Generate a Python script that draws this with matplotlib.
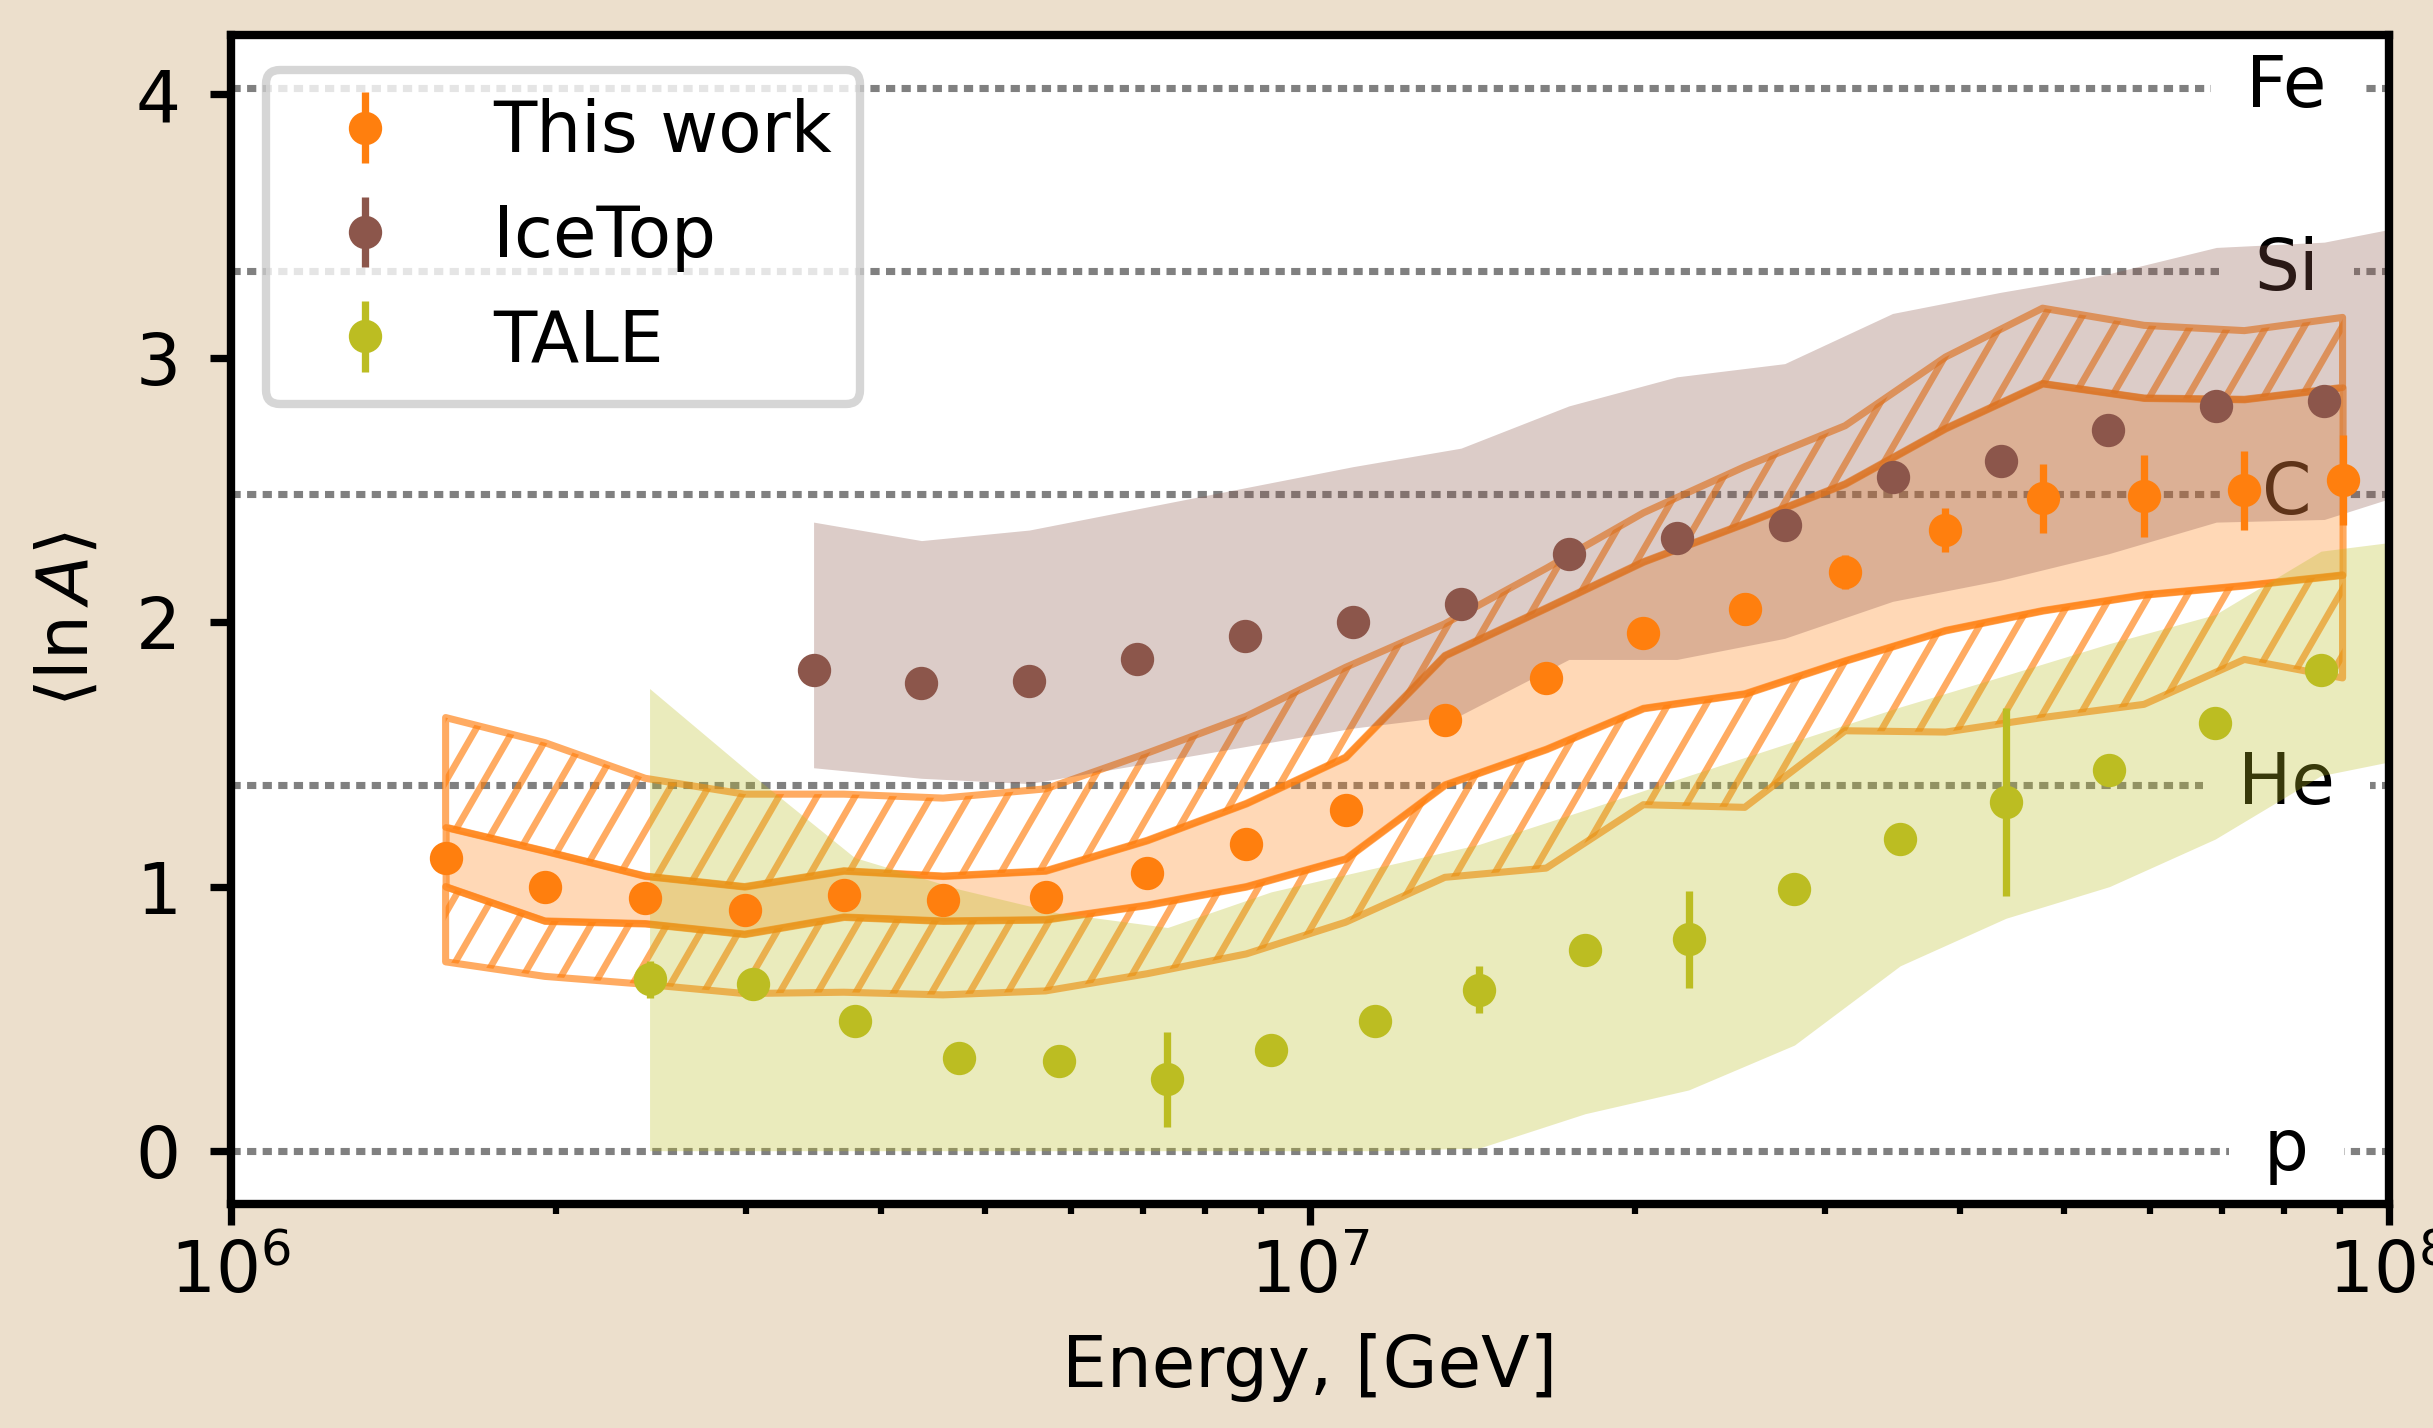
import numpy as np
import matplotlib
matplotlib.use("Agg")
import matplotlib.pyplot as plt
from matplotlib.collections import LineCollection
from matplotlib.colors import to_rgb

# ---- this work: log10(E/GeV), <lnA>, stat. error, stat. band and syst. band
lgE_this = [6.199, 6.291, 6.384, 6.476, 6.568, 6.660, 6.755, 6.849, 6.941, 7.033,
            7.125, 7.219, 7.309, 7.403, 7.496, 7.589, 7.679, 7.773, 7.866, 7.957]
lnA_this = [1.11, 1.00, 0.955, 0.91, 0.97, 0.95, 0.96, 1.05, 1.16, 1.29,
            1.63, 1.79, 1.96, 2.05, 2.19, 2.35, 2.47, 2.48, 2.50, 2.54]
err_this = [0.02, 0.02, 0.02, 0.02, 0.02, 0.02, 0.02, 0.03, 0.03, 0.03,
            0.03, 0.03, 0.04, 0.06, 0.065, 0.085, 0.13, 0.155, 0.15, 0.17]
stat_lo = [1.00, 0.87, 0.86, 0.82, 0.885, 0.87, 0.875, 0.93, 1.00, 1.105,
           1.385, 1.52, 1.675, 1.73, 1.855, 1.97, 2.045, 2.105, 2.14, 2.18]
stat_hi = [1.225, 1.135, 1.04, 1.00, 1.06, 1.04, 1.06, 1.175, 1.315, 1.49,
           1.875, 2.055, 2.23, 2.375, 2.525, 2.735, 2.905, 2.85, 2.845, 2.89]
sys_lo = [0.715, 0.66, 0.63, 0.595, 0.60, 0.59, 0.605, 0.67, 0.745, 0.865,
          1.035, 1.07, 1.31, 1.30, 1.59, 1.585, 1.64, 1.69, 1.86, 1.79]
sys_hi = [1.64, 1.545, 1.41, 1.35, 1.35, 1.335, 1.37, 1.505, 1.645, 1.83,
          1.995, 2.205, 2.415, 2.59, 2.745, 3.005, 3.19, 3.125, 3.105, 3.155]

# ---- IceTop
lgE_icetop = [6.54, 6.64, 6.74, 6.84, 6.94, 7.04, 7.14, 7.24, 7.34, 7.44,
              7.54, 7.64, 7.74, 7.84, 7.94]
lnA_icetop = [1.82, 1.77, 1.78, 1.86, 1.95, 2.00, 2.07, 2.26, 2.32, 2.37,
              2.55, 2.61, 2.73, 2.82, 2.84]
err_icetop = [0.02, 0.02, 0.02, 0.02, 0.02, 0.02, 0.02, 0.02, 0.02, 0.02,
              0.02, 0.02, 0.02, 0.02, 0.02]
lgE_icetop_band = [6.54, 6.64, 6.74, 6.84, 6.94, 7.04, 7.14, 7.24, 7.34, 7.44,
                   7.54, 7.64, 7.74, 7.84, 7.94, 8.04]
icetop_lo = [1.45, 1.41, 1.39, 1.46, 1.53, 1.60, 1.65, 1.86, 1.86, 1.94,
             2.08, 2.16, 2.26, 2.38, 2.39, 2.52]
icetop_hi = [2.38, 2.31, 2.35, 2.43, 2.51, 2.59, 2.66, 2.82, 2.93, 2.98,
             3.17, 3.25, 3.32, 3.42, 3.44, 3.52]

# ---- TALE
lgE_tale = [6.388, 6.484, 6.578, 6.675, 6.767, 6.868, 6.964, 7.060, 7.157,
            7.255, 7.351, 7.449, 7.547, 7.645, 7.741, 7.839, 7.937]
lnA_tale = [0.65, 0.63, 0.49, 0.35, 0.34, 0.27, 0.38, 0.49, 0.61,
            0.76, 0.80, 0.99, 1.18, 1.32, 1.44, 1.62, 1.82]
err_tale = [0.07, 0.02, 0.02, 0.02, 0.02, 0.18, 0.02, 0.02, 0.09,
            0.02, 0.185, 0.02, 0.02, 0.355, 0.02, 0.02, 0.02]
lgE_tale_band = [6.388, 6.484, 6.578, 6.675, 6.767, 6.868, 6.964, 7.060, 7.157,
                 7.255, 7.351, 7.449, 7.547, 7.645, 7.741, 7.839, 7.937, 8.034]
tale_lo = [0.0, 0.0, 0.0, 0.0, 0.0, 0.0, 0.0, 0.0, 0.01,
           0.14, 0.23, 0.40, 0.70, 0.88, 1.00, 1.18, 1.42, 1.50]
tale_hi = [1.75, 1.42, 1.11, 0.99, 0.90, 0.845, 0.98, 1.07, 1.16,
           1.29, 1.42, 1.55, 1.68, 1.80, 1.92, 2.03, 2.27, 2.32]

# ---- reference nuclei
nuclei = ["p", "He", "C", "Si", "Fe"]
mass_numbers = [1, 4, 12, 28, 56]

FS = 17
c_this = "#ff7f0e"
c_icetop = "#8c564b"
c_tale = "#bcbd22"


def E(lg):
    return 10 ** np.asarray(lg)


def add_hatch(ax, band, spacing=38, angle=60, **kw):
    # slanted hatch lines in axes fraction, clipped to the band polygon
    bb = ax.get_window_extent()
    dx = bb.height / np.tan(np.radians(angle)) / bb.width
    step = spacing / bb.width
    starts = np.arange(-dx - step, 1 + step, step)
    segs = [[(s, 0), (s + dx, 1)] for s in starts]
    lc = LineCollection(segs, transform=ax.transAxes, **kw)
    ax.add_collection(lc, autolim=False)
    lc.set_clip_path(band.get_paths()[0], ax.transData)
    return lc


fig = plt.figure(figsize=(8.11, 4.76), dpi=300, facecolor="#ecdfcc")
ax = fig.add_axes([0.0949, 0.1572, 0.887, 0.8186])
ax.set_xscale("log")
ax.set_xlim(1e6, 1e8)
ax.set_ylim(-0.2, 4.226)

for name, a in zip(nuclei, mass_numbers):
    ax.axhline(np.log(a), color="gray", lw=1.7, ls=(0, (1.3, 0.9)), zorder=1)
    ax.text(10 ** 7.905, np.log(a), name, ha="center", va="center", fontsize=FS,
            zorder=1.5, clip_on=True,
            bbox=dict(boxstyle="square,pad=0.5", facecolor="white", edgecolor="none"))

# this work: hatched systematic bands and shaded statistical band
rgb = to_rgb(c_this)
edge = (*rgb, 0.65)
x_this = E(lgE_this)
band_up = ax.fill_between(x_this, stat_hi, sys_hi, facecolor="none",
                          edgecolor=edge, lw=1.7, zorder=2)
band_dn = ax.fill_between(x_this, sys_lo, stat_lo, facecolor="none",
                          edgecolor=edge, lw=1.7, zorder=2)
ax.fill_between(x_this, stat_lo, stat_hi, facecolor=(*rgb, 0.3),
                edgecolor=edge, lw=1.7, zorder=2)
for b in (band_up, band_dn):
    add_hatch(ax, b, colors=[edge], linewidths=1.6, zorder=2.1)

# IceTop and TALE systematic bands
ax.fill_between(E(lgE_icetop_band), icetop_lo, icetop_hi, color=c_icetop,
                alpha=0.3, lw=0, zorder=2.5)
ax.fill_between(E(lgE_tale_band), tale_lo, tale_hi, color=c_tale,
                alpha=0.3, lw=0, zorder=2.5)

ax.errorbar(x_this, lnA_this, yerr=err_this, fmt="o", color=c_this, ms=7,
            elinewidth=1.75, label="This work", zorder=4)
ax.errorbar(E(lgE_icetop), lnA_icetop, yerr=err_icetop, fmt="o", color=c_icetop,
            ms=7, elinewidth=1.75, label="IceTop", zorder=3.5)
ax.errorbar(E(lgE_tale), lnA_tale, yerr=err_tale, fmt="o", color=c_tale, ms=7,
            elinewidth=1.75, label="TALE", zorder=3.5)

ax.set_yticks([0, 1, 2, 3, 4])
ax.tick_params(which="major", length=5, width=1.75, labelsize=FS)
ax.tick_params(which="minor", length=2.5, width=1.5)
ax.tick_params(axis="y", pad=7)
for s in ax.spines.values():
    s.set_linewidth(2)

ax.set_xlabel("Energy, [GeV]", fontsize=FS, labelpad=6)
ax.set_ylabel(r"$\langle \ln A\rangle$", fontsize=FS, labelpad=8)

leg = ax.legend(loc="upper left", fontsize=FS, framealpha=0.8)
leg.get_frame().set_linewidth(2)

fig.savefig("out.png", dpi=300, facecolor=fig.get_facecolor())
